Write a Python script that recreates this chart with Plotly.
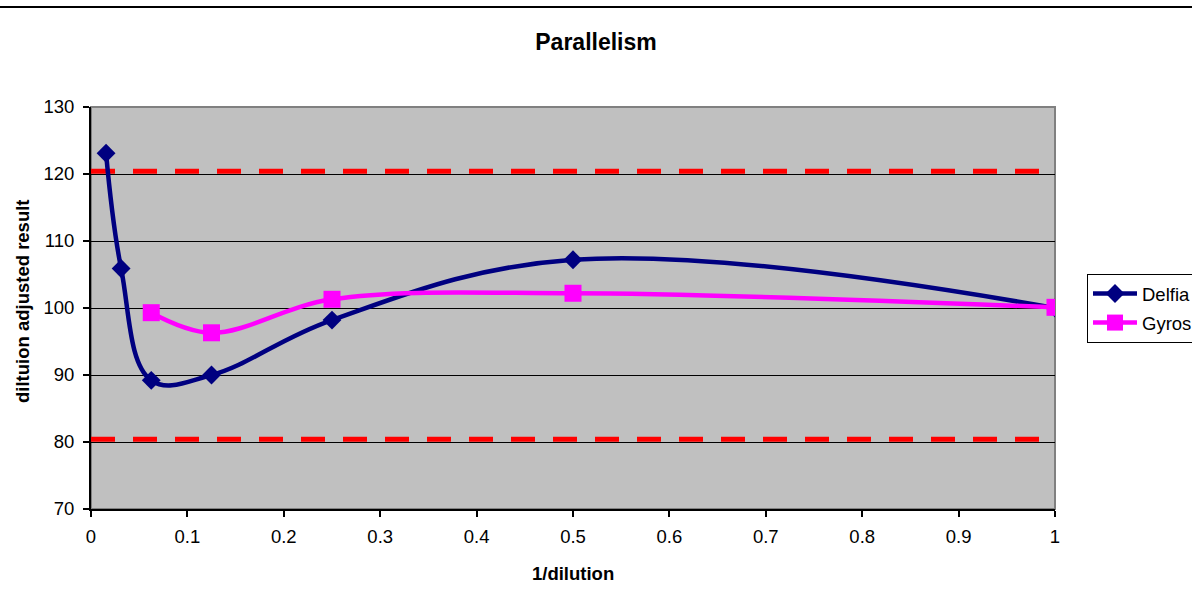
import plotly.graph_objects as go

# Dilution series (x = 1/dilution)
delfia_x = [1/64, 1/32, 1/16, 1/8, 1/4, 1/2, 1]
delfia_y = [123.1, 105.9, 89.2, 90.0, 98.2, 107.2, 100.0]

gyros_x = [1/16, 1/8, 1/4, 1/2, 1]
gyros_y = [99.3, 96.3, 101.3, 102.2, 100.1]

# Acceptance limits
limit_x = [0, 1]
upper_limit = [120.4, 120.4]
lower_limit = [80.4, 80.4]

x_ticks = [0, 0.1, 0.2, 0.3, 0.4, 0.5, 0.6, 0.7, 0.8, 0.9, 1]
x_tick_labels = ["0", "0.1", "0.2", "0.3", "0.4", "0.5", "0.6", "0.7", "0.8", "0.9", "1"]
y_ticks = [70, 80, 90, 100, 110, 120, 130]

W, H = 1192, 601
L, R, T, B = 91, 1055, 107, 509  # plot area edges in px
pw, ph = R - L, B - T

FONT = "Liberation Sans, Arial, sans-serif"
NAVY = "#000080"
MAGENTA = "#FF00FF"

fig = go.Figure()

for ys in (upper_limit, lower_limit):
    fig.add_trace(go.Scatter(
        x=limit_x, y=ys, mode="lines",
        line=dict(color="#FF0000", width=5, dash="24px,18px"),
        showlegend=False, hoverinfo="skip"))

fig.add_trace(go.Scatter(
    x=delfia_x, y=delfia_y, name="Delfia", mode="lines+markers",
    line=dict(color=NAVY, width=4.5, shape="spline", smoothing=1.1),
    marker=dict(symbol="diamond", size=14.5, color=NAVY),
    legendgroup="d"))

fig.add_trace(go.Scatter(
    x=gyros_x, y=gyros_y, name="Gyros", mode="lines+markers",
    line=dict(color=MAGENTA, width=4.5, shape="spline", smoothing=1),
    marker=dict(symbol="square", size=17, color=MAGENTA),
    legendgroup="g"))

def px_x(p):
    return (p - L) / pw

def px_y(p):
    return (B - p) / ph

shapes = [
    # plot area border
    dict(type="rect", xref="paper", yref="paper", x0=0, x1=1, y0=0, y1=1,
         line=dict(color="#808080", width=2), layer="below"),
    # chart frame top edge
    dict(type="line", xref="paper", yref="paper",
         x0=px_x(0), x1=px_x(W), y0=px_y(7), y1=px_y(7),
         line=dict(color="black", width=2)),
]

annotations = [
    dict(text="diltuion adjusted result", xref="paper", yref="paper",
         x=px_x(22), y=px_y(301), textangle=-90, showarrow=False,
         xanchor="center", yanchor="middle",
         font=dict(family=FONT, size=18.5, color="black", weight="bold")),
    dict(text="1/dilution", xref="paper", yref="paper",
         x=0.5, y=px_y(573), showarrow=False,
         xanchor="center", yanchor="middle",
         font=dict(family=FONT, size=18.5, color="black", weight="bold")),
]

fig.update_layout(
    width=W, height=H,
    margin=dict(l=L, r=W - R, t=T, b=H - B, autoexpand=False),
    paper_bgcolor="white",
    plot_bgcolor="#C0C0C0",
    title=dict(text="Parallelism", x=0.5, xref="container", xanchor="center",
               y=1 - 42 / H, yanchor="middle",
               font=dict(family=FONT, size=23, color="black", weight="bold")),
    font=dict(family=FONT, size=18.5, color="black"),
    showlegend=True,
    legend=dict(x=px_x(1087), y=px_y(274), xanchor="left", yanchor="top",
                bgcolor="white", bordercolor="black", borderwidth=1,
                traceorder="grouped", tracegroupgap=2, itemwidth=44,
                font=dict(family=FONT, size=18.5, color="black")),
    shapes=shapes,
    annotations=annotations,
    xaxis=dict(range=[0, 1], tickvals=x_ticks, ticktext=x_tick_labels,
               showgrid=False, zeroline=False,
               showline=True, linecolor="black", linewidth=2,
               ticks="outside", ticklen=6, tickcolor="black", tickwidth=1.5,
               ticklabelstandoff=4,
               tickfont=dict(family=FONT, size=18.5, color="black")),
    yaxis=dict(range=[70, 130], tickvals=y_ticks,
               showgrid=True, gridcolor="black", gridwidth=1, zeroline=False,
               showline=True, linecolor="black", linewidth=2,
               ticks="outside", ticklen=6, tickcolor="black", tickwidth=1.5,
               ticklabelstandoff=5,
               tickfont=dict(family=FONT, size=18.5, color="black")),
)

fig.write_html("out.html")
